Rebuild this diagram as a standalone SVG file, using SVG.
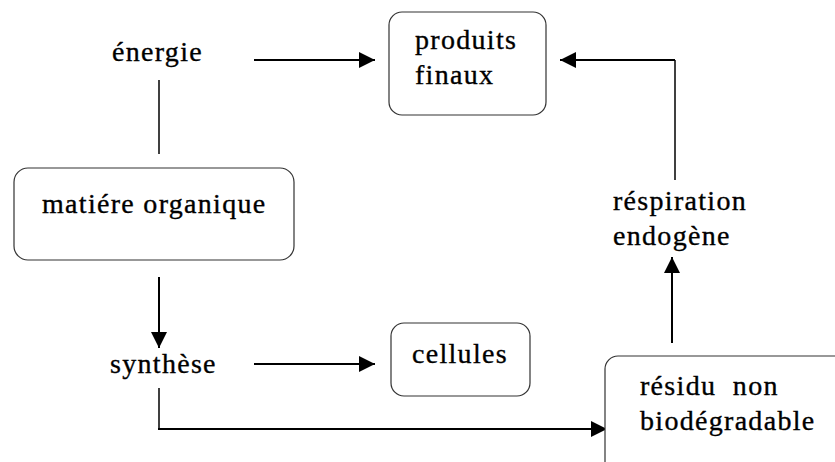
<svg xmlns="http://www.w3.org/2000/svg" width="835" height="462" viewBox="0 0 835 462">
  <style>
    text { font-family: 'Liberation Serif', 'Times New Roman', serif; font-size: 28px; letter-spacing: 1.3px; fill: #000; stroke: #000; stroke-width: 0.35; white-space: pre; }
    .box { fill: #fff; stroke: #333; stroke-width: 1.2; }
    .arrow { stroke: #000; stroke-width: 2; fill: none; marker-end: url(#head); }
    .line { stroke: #000; stroke-width: 1.5; fill: none; }
  </style>
  <defs>
    <marker id="head" viewBox="0 0 16 16" refX="16" refY="8" markerWidth="16" markerHeight="16" markerUnits="userSpaceOnUse" orient="auto">
      <path d="M0,0 L16,8 L0,16 Z" fill="#000"/>
    </marker>
  </defs>

  <g id="connectors">
    <!-- énergie → produits finaux -->
    <path class="arrow" d="M254,60 H375"/>
    <!-- énergie — matière organique -->
    <path class="line" d="M159,80 V154"/>
    <!-- respiration → produits finaux -->
    <path class="line" d="M675,180 V60"/>
    <path class="arrow" d="M675,60 H560"/>
    <!-- matière organique → synthèse -->
    <path class="arrow" d="M159,277 V348"/>
    <!-- synthèse → cellules -->
    <path class="arrow" d="M254,364 H375"/>
    <!-- synthèse → résidu -->
    <path class="line" d="M159,388 V429"/>
    <path class="arrow" d="M158,429 H607"/>
    <!-- résidu → respiration -->
    <path class="arrow" d="M672,343 V257"/>
  </g>

  <g id="energie">
    <text x="112" y="61">énergie</text>
  </g>

  <g id="produits-finaux">
    <rect class="box" x="389" y="12" width="157" height="103" rx="13"/>
    <text x="415" y="49">produits</text>
    <text x="415" y="84">finaux</text>
  </g>

  <g id="matiere-organique">
    <rect class="box" x="14" y="168" width="280" height="92" rx="14"/>
    <text x="42" y="213">matiére organique</text>
  </g>

  <g id="respiration">
    <text x="613" y="210">réspiration</text>
    <text x="613" y="245">endogène</text>
  </g>

  <g id="synthese">
    <text x="110" y="373">synthèse</text>
  </g>

  <g id="cellules">
    <rect class="box" x="391" y="323" width="139" height="73" rx="13"/>
    <text x="412" y="363">cellules</text>
  </g>

  <g id="residu">
    <rect class="box" x="605" y="356" width="260" height="130" rx="13"/>
    <text x="640" y="395">résidu  non</text>
    <text x="640" y="430">biodégradable</text>
  </g>
</svg>
